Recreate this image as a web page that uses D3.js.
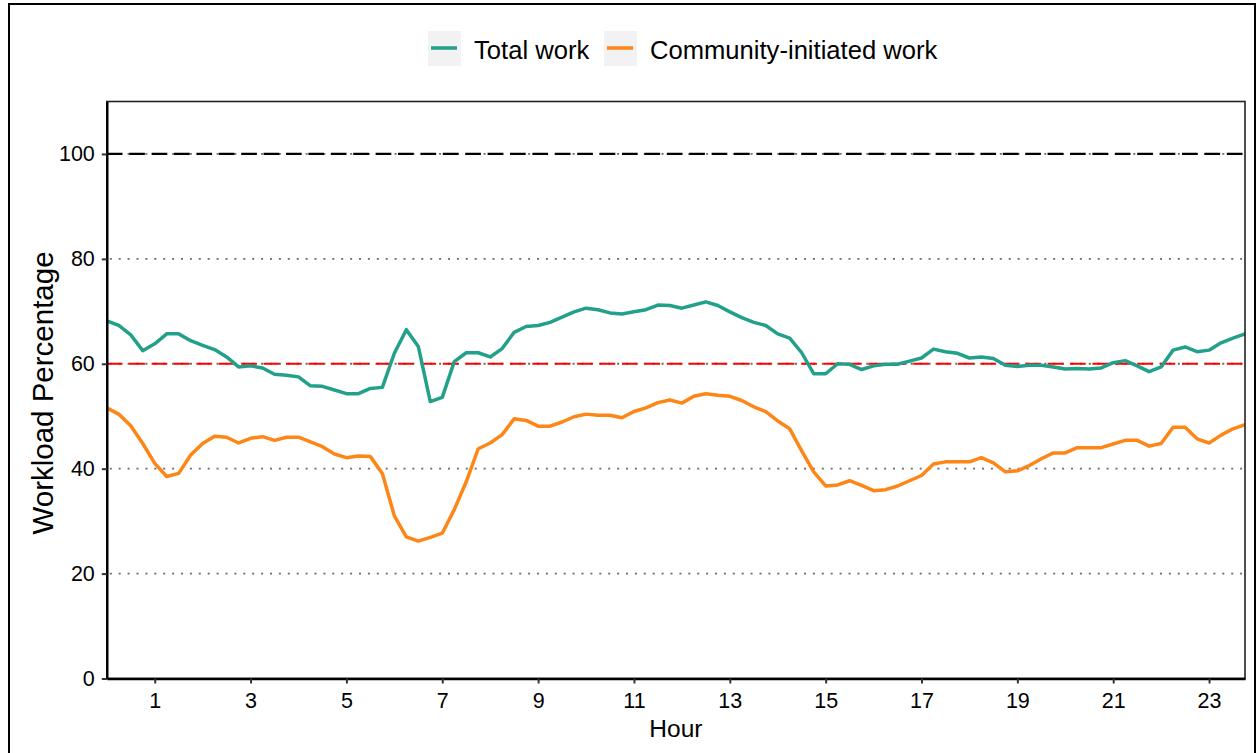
<!doctype html>
<meta charset="utf-8">
<script src="https://d3js.org/d3.v7.min.js"></script>
<style>
  body { margin: 0; background: #fff; }
  svg { display: block; font-family: "Liberation Sans", Arial, sans-serif; }
</style>
<body></body>
<script>

var width = 1259;
var height = 753;

// quarter-hour steps from 0:00 to 23:45
var hours = d3.range(0, 24, 0.25);

var totalWork = [
  68.2, 67.3, 65.5, 62.5,  63.8, 65.7, 65.7, 64.4,  63.5, 62.7, 61.3, 59.4,
  59.6, 59.2, 58.0, 57.8,  57.5, 55.8, 55.7, 55.0,  54.3, 54.3, 55.3, 55.5,
  62.0, 66.5, 63.3, 52.8,  53.6, 60.4, 62.1, 62.1,  61.3, 62.9, 66.0, 67.1,
  67.3, 67.9, 68.9, 69.9,  70.6, 70.3, 69.7, 69.5,  69.9, 70.3, 71.2, 71.1,
  70.6, 71.2, 71.8, 71.1,  69.9, 68.8, 67.9, 67.3,  65.7, 64.9, 62.1, 58.1,
  58.1, 60.0, 59.9, 58.9,  59.6, 59.9, 59.9, 60.5,  61.1, 62.8, 62.3, 62.0,
  61.1, 61.3, 61.0, 59.7,  59.5, 59.7, 59.7, 59.4,  59.0, 59.1, 59.0, 59.2,
  60.2, 60.6, 59.6, 58.5,  59.4, 62.6, 63.2, 62.3,  62.6, 64.0, 64.9, 65.7
];

var communityWork = [
  51.6, 50.4, 48.2, 44.8,  41.0, 38.5, 39.1, 42.6,  44.8, 46.2, 46.0, 44.9,
  45.8, 46.1, 45.4, 46.0,  46.0, 45.1, 44.2, 42.8,  42.1, 42.4, 42.3, 39.1,
  31.0, 27.0, 26.2, 26.9,  27.7, 32.2, 37.5, 43.8,  44.9, 46.5, 49.5, 49.2,
  48.1, 48.1, 48.9, 49.9,  50.4, 50.2, 50.2, 49.7,  50.9, 51.6, 52.6, 53.1,
  52.5, 53.8, 54.3, 54.0,  53.8, 53.0, 51.8, 50.9,  49.1, 47.6, 43.4, 39.4,
  36.7, 36.9, 37.7, 36.8,  35.8, 36.0, 36.7, 37.7,  38.7, 40.9, 41.3, 41.3,
  41.3, 42.1, 41.1, 39.4,  39.6, 40.6, 41.9, 43.0,  43.0, 44.0, 44.0, 44.0,
  44.7, 45.4, 45.4, 44.3,  44.8, 47.9, 47.9, 45.7,  44.9, 46.4, 47.6, 48.4
];

var seriesNames = ["Total work", "Community-initiated work"];
var seriesColors = ["#22a089", "#fd8617"];
var xTicks = [1, 3, 5, 7, 9, 11, 13, 15, 17, 19, 21, 23];
var yTicks = [0, 20, 40, 60, 80, 100];

// panel edges (window.top is reserved, so use a plain object)
var panel = {x0: 106.8, x1: 1245, y0: 101.5, y1: 678.5};

var svg = d3.select("body")
        .append("svg")
        .attr("width", width)
        .attr("height", height);

svg.append("rect")
        .attr("width", width)
        .attr("height", height)
        .attr("fill", "#fff");

// outer frame (bottom runs off the picture)
svg.append("rect")
        .attr("x", 9).attr("y", 4)
        .attr("width", 1246).attr("height", 780)
        .attr("fill", "none")
        .attr("stroke", "#000")
        .attr("stroke-width", 2);

var x = d3.scaleLinear().domain([0, 23.75]).range([panel.x0, panel.x1]);
var y = d3.scaleLinear().domain([0, 110]).range([panel.y1, panel.y0]);

// dotted grid
svg.append("g")
        .selectAll("line")
        .data(yTicks.filter(function(d){ return d > 0; }))
        .enter()
        .append("line")
        .attr("x1", panel.x0 + 3).attr("x2", panel.x1)
        .attr("y1", function(d){ return y(d); })
        .attr("y2", function(d){ return y(d); })
        .attr("stroke", "#6a6a6a")
        .attr("stroke-width", 1.8)
        .attr("stroke-dasharray", "2 6.9");

// reference lines
var refs = [{v: 100, c: "#000"}, {v: 60, c: "#ff0000"}];
svg.append("g")
        .selectAll("line")
        .data(refs)
        .enter()
        .append("line")
        .attr("x1", panel.x0).attr("x2", panel.x1)
        .attr("y1", function(d){ return y(d.v); })
        .attr("y2", function(d){ return y(d.v); })
        .attr("stroke", function(d){ return d.c; })
        .attr("stroke-width", 2.2)
        .attr("stroke-dasharray", "15.7 6.7");

var line = d3.line()
        .x(function(d, i){ return x(hours[i]); })
        .y(function(d){ return y(d); });

svg.append("clipPath").attr("id", "clip")
        .append("rect")
        .attr("x", panel.x0).attr("y", panel.y0)
        .attr("width", panel.x1 - panel.x0).attr("height", panel.y1 - panel.y0);

svg.append("g")
        .attr("clip-path", "url(#clip)")
        .selectAll("path")
        .data([totalWork, communityWork])
        .enter()
        .append("path")
        .attr("d", line)
        .attr("fill", "none")
        .attr("stroke", function(d, i){ return seriesColors[i]; })
        .attr("stroke-width", 3.5)
        .attr("stroke-linejoin", "round");

// panel border
svg.append("rect")
        .attr("x", panel.x0).attr("y", panel.y0)
        .attr("width", panel.x1 - panel.x0).attr("height", panel.y1 - panel.y0)
        .attr("fill", "none")
        .attr("stroke", "#222")
        .attr("stroke-width", 1.6);

// axes
var xAxis = svg.append("g")
        .attr("transform", "translate(0," + panel.y1 + ")")
        .call(d3.axisBottom(x).tickValues(xTicks).tickSize(5).tickPadding(9).tickSizeOuter(0));

var yAxis = svg.append("g")
        .attr("transform", "translate(" + panel.x0 + ",0)")
        .call(d3.axisLeft(y).tickValues(yTicks).tickSize(5).tickPadding(7).tickSizeOuter(0));

[xAxis, yAxis].forEach(function(g){
    g.attr("font-size", null).attr("font-family", null);
    g.select(".domain").attr("stroke", "#000").attr("stroke-width", 2.4);
    g.selectAll(".tick line").attr("stroke", "#333").attr("stroke-width", 2);
    g.selectAll(".tick text")
            .attr("fill", "#000")
            .style("font-size", "21.5px");
});

// axis titles
svg.append("text")
        .attr("x", (panel.x0 + panel.x1) / 2)
        .attr("y", 737)
        .attr("text-anchor", "middle")
        .style("font-size", "24.5px")
        .text("Hour");

svg.append("text")
        .attr("transform", "translate(52.5," + ((panel.y0 + panel.y1) / 2 + 3) + ") rotate(-90)")
        .attr("text-anchor", "middle")
        .style("font-size", "29.5px")
        .text("Workload Percentage");

// legend
var legendX = [428, 604];
var legend = svg.append("g")
        .selectAll("g")
        .data(seriesNames)
        .enter()
        .append("g")
        .attr("transform", function(d, i){ return "translate(" + legendX[i] + ",31)"; });

legend.append("rect")
        .attr("width", 33).attr("height", 35)
        .attr("fill", "#f2f2f2");

legend.append("line")
        .attr("x1", 3).attr("x2", 29)
        .attr("y1", 17).attr("y2", 17)
        .attr("stroke", function(d, i){ return seriesColors[i]; })
        .attr("stroke-width", 3.5);

legend.append("text")
        .attr("x", 46)
        .attr("y", 27.5)
        .style("font-size", "25.6px")
        .text(function(d){ return d; });

</script>
